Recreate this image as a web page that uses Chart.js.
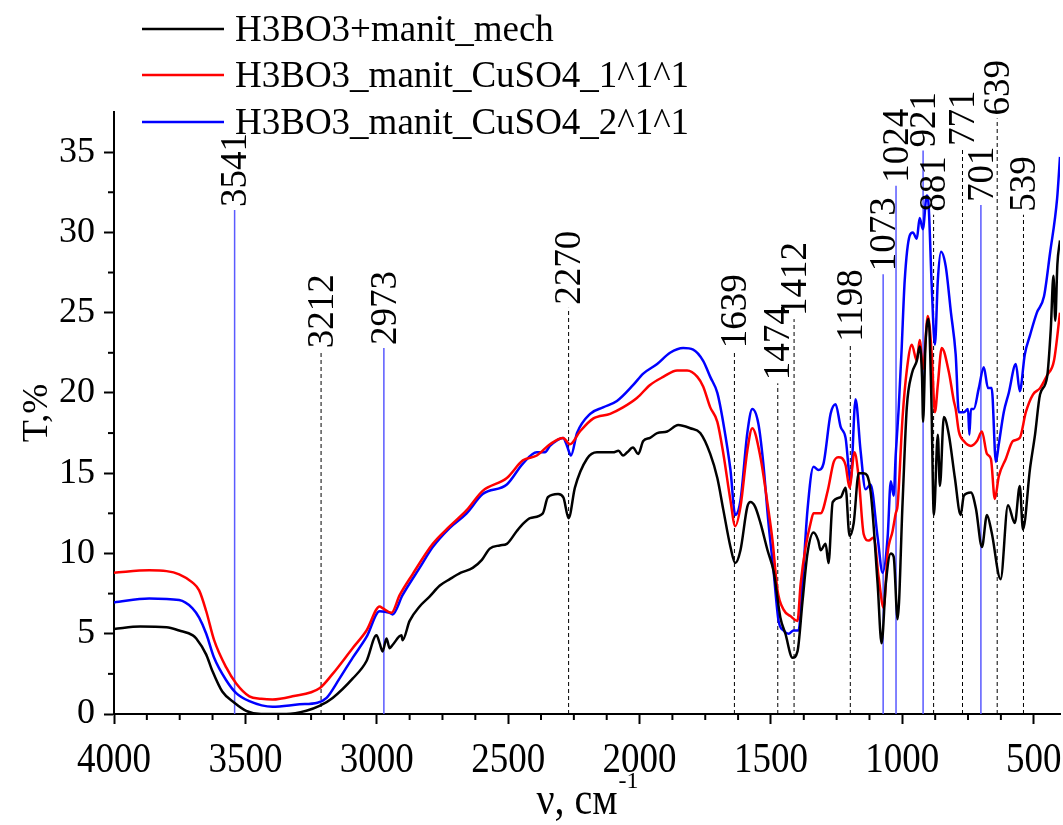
<!DOCTYPE html>
<html>
<head>
<meta charset="utf-8">
<title>IR spectra</title>
<script src="https://cdn.jsdelivr.net/npm/chart.js@4.4.1/dist/chart.umd.min.js"></script>
<style>
    html, body { margin: 0; padding: 0; background: #fff; }
    #wrap { width: 1063px; height: 825px; }
</style>
</head>
<body>
<div id="wrap"><canvas id="myChart" width="1063" height="825"></canvas></div>
<script>
// [wavenumber, T%]
let mechData = [
    [4000, 5.3], [3900, 5.45], [3800, 5.4], [3752, 5.2], [3700, 4.9], [3687, 4.7], [3649, 3.7], [3626, 2.7],
    [3588, 1.4], [3542, 0.7], [3497, 0.2], [3440, 0.0], [3344, 0.0], [3268, 0.2], [3218, 0.5], [3168, 1.0],
    [3092, 2.2], [3039, 3.3], [3001, 4.9], [2989, 4.4], [2978, 3.9], [2963, 4.7], [2951, 4.1], [2940, 4.3],
    [2906, 4.9], [2902, 4.6], [2875, 5.8], [2837, 6.7], [2800, 7.3], [2760, 8.0], [2722, 8.4], [2680, 8.8],
    [2635, 9.1], [2600, 9.6], [2570, 10.3], [2532, 10.5], [2505, 10.6], [2467, 11.4], [2440, 11.9], [2417, 12.2],
    [2368, 12.5], [2349, 13.5], [2310, 13.7], [2290, 13.5], [2270, 12.2], [2246, 14.1], [2200, 15.9], [2162, 16.3],
    [2101, 16.3], [2080, 16.4], [2063, 16.1], [2047, 16.3], [2025, 16.6], [2005, 16.2], [1986, 17.0], [1960, 17.2],
    [1933, 17.5], [1895, 17.6], [1853, 18.0], [1807, 17.8], [1769, 17.5], [1731, 16.2], [1704, 14.7], [1681, 12.7],
    [1654, 10.4], [1636, 9.4], [1616, 10.2], [1590, 12.9], [1578, 13.2], [1560, 12.9], [1540, 11.9], [1513, 10.2],
    [1490, 8.9], [1464, 6.0], [1445, 5.0], [1418, 3.5], [1399, 3.9], [1380, 7.0], [1361, 10.0], [1338, 11.3],
    [1320, 10.8], [1311, 10.2], [1292, 10.6], [1281, 9.4], [1265, 13.2], [1235, 13.5], [1216, 14.1], [1201, 11.1],
    [1185, 11.9], [1166, 15.0], [1147, 15.0], [1121, 13.9], [1094, 8.1], [1079, 4.4], [1063, 8.1], [1044, 10.0],
    [1033, 9.8], [1018, 5.9], [999, 13.2], [983, 19.1], [964, 21.2], [945, 22.0], [934, 22.9], [925, 21.0],
    [921, 18.2], [912, 23.0], [900, 24.6], [890, 20.0], [880, 12.4], [865, 17.4], [857, 14.2], [842, 18.5],
    [823, 17.4], [800, 14.7], [778, 12.4], [766, 13.6], [739, 13.8], [720, 12.8], [697, 10.4], [678, 12.4],
    [660, 11.3], [626, 8.4], [598, 13.0], [572, 11.9], [553, 14.2], [541, 11.5], [514, 15.3], [495, 17.4],
    [476, 19.9], [449, 21.0], [435, 24.0], [425, 27.3], [418, 24.5], [410, 28.0], [400, 29.5]
];

let cu1Data = [
    [4000, 8.8], [3866, 8.95], [3800, 8.9], [3752, 8.7], [3702, 8.2], [3676, 7.7], [3649, 6.4], [3619, 4.6],
    [3573, 2.9], [3535, 1.9], [3485, 1.1], [3440, 0.95], [3397, 0.9], [3321, 1.1], [3218, 1.6], [3168, 2.5],
    [3092, 4.1], [3039, 5.2], [2989, 6.7], [2978, 6.6], [2944, 6.3], [2913, 7.4], [2864, 8.7], [2787, 10.6],
    [2722, 11.7], [2658, 12.7], [2597, 13.9], [2505, 14.7], [2444, 15.8], [2391, 16.1], [2341, 16.8], [2291, 17.2],
    [2265, 16.8], [2227, 17.6], [2177, 18.4], [2112, 18.7], [2063, 19.1], [2009, 19.7], [1960, 20.5], [1910, 21.0],
    [1857, 21.4], [1819, 21.4], [1780, 21.0], [1758, 20.4], [1731, 19.1], [1704, 18.2], [1681, 16.2], [1654, 13.3],
    [1636, 11.7], [1616, 12.9], [1590, 16.4], [1571, 17.8], [1540, 16.0], [1513, 13.1], [1494, 10.8], [1475, 7.7],
    [1452, 6.5], [1426, 6.1], [1399, 5.8], [1387, 8.1], [1368, 10.4], [1349, 11.9], [1338, 12.5], [1311, 12.5],
    [1284, 13.9], [1261, 15.7], [1242, 16.0], [1216, 15.5], [1201, 14.1], [1182, 16.3], [1166, 14.7], [1147, 11.2],
    [1128, 10.8], [1109, 11.0], [1090, 8.5], [1071, 6.6], [1056, 10.0], [1037, 11.4], [1025, 12.5], [1018, 13.0],
    [999, 18.5], [983, 21.4], [964, 23.0], [945, 22.0], [934, 23.3], [921, 21.5], [903, 24.8], [888, 22.4],
    [876, 18.8], [865, 20.5], [850, 22.8], [823, 21.3], [804, 19.5], [797, 19.0], [785, 17.6], [766, 17.0],
    [739, 16.7], [716, 17.0], [697, 17.6], [678, 16.2], [663, 15.9], [648, 13.4], [633, 14.8], [606, 15.9],
    [579, 17.0], [553, 17.2], [530, 18.8], [503, 19.9], [476, 20.3], [449, 21.1], [423, 22.0], [400, 25.0]
];

let cu2Data = [
    [4000, 6.95], [3866, 7.2], [3752, 7.1], [3702, 6.6], [3676, 6.0], [3649, 5.0], [3619, 3.5], [3573, 2.1],
    [3535, 1.3], [3485, 0.8], [3397, 0.45], [3294, 0.6], [3226, 0.7], [3191, 1.0], [3142, 2.2], [3092, 3.5],
    [3039, 4.8], [2989, 6.4], [2951, 6.3], [2940, 6.2], [2902, 7.4], [2837, 9.1], [2787, 10.4], [2722, 11.6],
    [2658, 12.5], [2597, 13.7], [2505, 14.3], [2444, 15.6], [2391, 16.3], [2360, 16.3], [2341, 16.7], [2291, 17.2],
    [2276, 16.7], [2261, 16.1], [2238, 17.5], [2188, 18.7], [2139, 19.1], [2086, 19.5], [2024, 20.5], [1986, 21.2],
    [1933, 21.8], [1884, 22.5], [1834, 22.8], [1796, 22.7], [1758, 22.0], [1731, 21.0], [1704, 20.0], [1681, 18.1],
    [1654, 15.2], [1636, 12.4], [1616, 13.3], [1590, 17.5], [1571, 19.0], [1548, 18.1], [1529, 15.6], [1510, 12.0],
    [1490, 8.9], [1471, 5.8], [1452, 5.2], [1433, 5.0], [1414, 5.2], [1395, 5.2], [1380, 8.1], [1361, 12.7],
    [1338, 15.4], [1319, 15.2], [1300, 15.6], [1273, 18.7], [1254, 19.3], [1235, 17.9], [1216, 17.2], [1197, 14.5],
    [1178, 19.6], [1159, 16.4], [1140, 14.0], [1121, 14.3], [1094, 11.0], [1075, 8.8], [1056, 11.0], [1044, 14.5],
    [1033, 13.6], [1025, 16.2], [1014, 19.0], [1003, 22.6], [991, 27.0], [972, 29.8], [960, 30.0], [945, 29.6],
    [934, 30.9], [922, 30.2], [907, 32.3], [900, 31.7], [888, 26.6], [876, 23.0], [865, 27.0], [853, 28.8],
    [835, 27.9], [815, 25.0], [797, 22.4], [785, 18.8], [766, 18.8], [750, 19.0], [745, 17.4], [739, 19.0],
    [728, 19.0], [709, 20.3], [690, 21.6], [674, 20.3], [660, 20.3], [644, 15.7], [633, 16.8], [614, 18.8],
    [595, 20.0], [568, 21.8], [553, 20.1], [534, 22.4], [514, 23.6], [488, 25.0], [461, 26.0], [438, 28.7],
    [411, 32.1], [400, 34.7]
];

let seriesNames = ['H3BO3+manit_mech', 'H3BO3_manit_CuSO4_1^1^1', 'H3BO3_manit_CuSO4_2^1^1'];

// peak markers: solid blue ones and dashed black ones, with the T value where each line stops
let blueMarks = [3541, 2973, 1073, 1024, 921, 701];
let blueTops = [31.4, 22.8, 27.4, 32.9, 35.1, 31.7];
let dashMarks = [3212, 2270, 1639, 1474, 1412, 1198, 881, 771, 639, 539];
let dashTops = [22.6, 25.3, 22.6, 20.6, 24.6, 23.0, 31.1, 35.2, 37.1, 31.1];

let xTicks = [4000, 3500, 3000, 2500, 2000, 1500, 1000, 500];
let yTicks = [0, 5, 10, 15, 20, 25, 30, 35];

const SERIF = "'Liberation Serif', 'Times New Roman', serif";


function toPoints(arr) {
    return arr.map(p => ({ x: p[0], y: p[1] }));
}

function markerPoints(waves, tops) {
    let pts = [];
    for (let i = 0; i < waves.length; i++) {
        pts.push({ x: waves[i], y: 0 });
        pts.push({ x: waves[i], y: tops[i] });
        pts.push({ x: waves[i], y: null });
    }
    return pts;
}

function line(ctx, x1, y1, x2, y2) {
    ctx.beginPath();
    ctx.moveTo(x1, y1);
    ctx.lineTo(x2, y2);
    ctx.stroke();
}


// minor ticks, x labels, titles, peak labels and legend
const overlay = {
    id: 'overlay',
    afterDraw(chart) {
        let ctx = chart.ctx;
        let xs = chart.scales.x;
        let ys = chart.scales.y;
        let area = chart.chartArea;
        ctx.save();
        ctx.strokeStyle = '#000';
        ctx.fillStyle = '#000';
        ctx.lineWidth = 2;

        for (let v = 4000; v >= xs.min; v -= 125) {
            if (v % 500 == 0) continue;
            let px = xs.getPixelForValue(v);
            line(ctx, px, area.bottom, px, area.bottom + 6);
        }
        for (let v = 2.5; v < ys.max; v += 5) {
            let py = ys.getPixelForValue(v);
            line(ctx, area.left, py, area.left - 6, py);
        }

        // x tick labels (drawn a bit taller, like the original)
        ctx.font = '37px ' + SERIF;
        ctx.textAlign = 'center';
        ctx.textBaseline = 'alphabetic';
        xTicks.forEach(v => {
            let px = xs.getPixelForValue(v);
            ctx.save();
            ctx.translate(px, area.bottom + 58);
            ctx.scale(1, 1.15);
            ctx.fillText(String(v), 0, 0);
            ctx.restore();
        });

        // x title with superscript
        ctx.font = '40px ' + SERIF;
        let main = 'ν, см';
        let w1 = ctx.measureText(main).width;
        ctx.font = '24px ' + SERIF;
        let w2 = ctx.measureText('-1').width;
        let cx = (area.left + area.right) / 2;
        let x0 = cx - (w1 + w2) / 2;
        ctx.textAlign = 'left';
        ctx.save();
        ctx.translate(x0, 814);
        ctx.scale(1, 1.15);
        ctx.font = '40px ' + SERIF;
        ctx.fillText(main, 0, 0);
        ctx.restore();
        ctx.font = '24px ' + SERIF;
        ctx.fillText('-1', x0 + w1 + 1, 788);

        // peak labels
        ctx.font = '37px ' + SERIF;
        ctx.textBaseline = 'middle';
        let marks = blueMarks.map((w, i) => [w, blueTops[i]]).concat(dashMarks.map((w, i) => [w, dashTops[i]]));
        marks.forEach(m => {
            let px = xs.getPixelForValue(m[0]);
            let py = ys.getPixelForValue(m[1]);
            ctx.save();
            ctx.translate(px + 2, py - 3);
            ctx.rotate(-Math.PI / 2);
            ctx.fillText(String(m[0]), 0, 0);
            ctx.restore();
        });

        // legend
        ctx.font = '37px ' + SERIF;
        ctx.textBaseline = 'middle';
        let rows = [29, 75, 122];
        for (let i = 0; i < 3; i++) {
            let ds = chart.data.datasets[i];
            ctx.strokeStyle = ds.borderColor;
            ctx.lineWidth = 2.5;
            line(ctx, 142, rows[i], 224, rows[i]);
            ctx.fillStyle = '#000';
            ctx.fillText(ds.label, 235, rows[i] + 2);
        }
        ctx.restore();
    }
};


const data = {
    datasets: [{
        label: seriesNames[0],
        data: toPoints(mechData),
        borderColor: '#000000',
        borderWidth: 2.5,
        pointRadius: 0,
        cubicInterpolationMode: 'monotone'
    }, {
        label: seriesNames[1],
        data: toPoints(cu1Data),
        borderColor: '#ff0000',
        borderWidth: 2.5,
        pointRadius: 0,
        cubicInterpolationMode: 'monotone'
    }, {
        label: seriesNames[2],
        data: toPoints(cu2Data),
        borderColor: '#0000ff',
        borderWidth: 2.5,
        pointRadius: 0,
        cubicInterpolationMode: 'monotone'
    }, {
        label: 'blue marks',
        data: markerPoints(blueMarks, blueTops),
        borderColor: 'rgb(90,90,255)',
        borderWidth: 1.5,
        pointRadius: 0,
        tension: 0,
        spanGaps: false
    }, {
        label: 'dashed marks',
        data: markerPoints(dashMarks, dashTops),
        borderColor: '#000000',
        borderWidth: 1,
        borderDash: [4, 3],
        pointRadius: 0,
        tension: 0,
        spanGaps: false
    }]
};

const config = {
    type: 'line',
    data: data,
    options: {
        responsive: false,
        animation: false,
        layout: { padding: { top: 112, right: 3, left: 0, bottom: 0 } },
        plugins: {
            legend: { display: false },
            tooltip: { enabled: false }
        },
        scales: {
            x: {
                type: 'linear',
                reverse: true,
                min: 400,
                max: 4000,
                afterBuildTicks: s => { s.ticks = xTicks.map(v => ({ value: v })); },
                afterFit: s => { s.height = 111; },
                ticks: { display: false },
                grid: { drawOnChartArea: false, tickLength: 10, tickWidth: 2, tickColor: '#000' },
                border: { display: true, color: '#000', width: 2 }
            },
            y: {
                type: 'linear',
                min: 0,
                max: 37.5,
                afterBuildTicks: s => { s.ticks = yTicks.map(v => ({ value: v })); },
                afterFit: s => { s.width = 114; },
                ticks: {
                    color: '#000',
                    padding: 9,
                    font: { family: SERIF, size: 36 },
                    callback: v => String(v)
                },
                grid: { drawOnChartArea: false, tickLength: 10, tickWidth: 2, tickColor: '#000' },
                border: { display: true, color: '#000', width: 2 },
                title: {
                    display: true,
                    text: 'T,%',
                    color: '#000',
                    font: { family: SERIF, size: 36 },
                    padding: { top: 16, bottom: 0 }
                }
            }
        }
    },
    plugins: [overlay]
};

let myChart = new Chart(document.getElementById('myChart'), config);
</script>
</body>
</html>
